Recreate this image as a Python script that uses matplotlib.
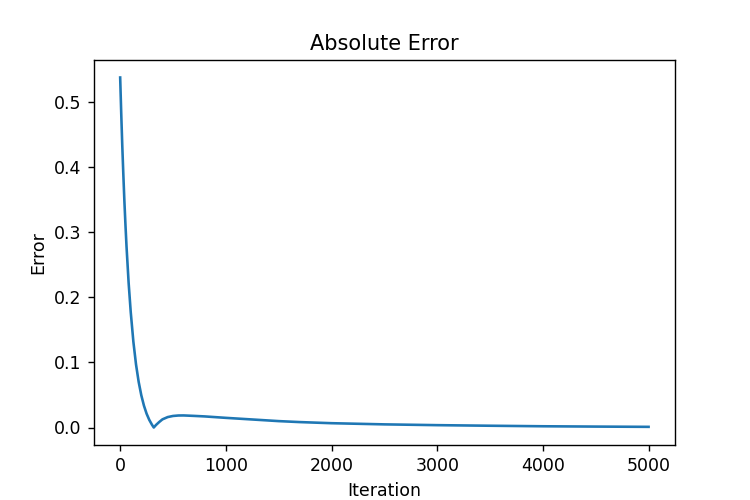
import matplotlib
matplotlib.use("Agg")
import matplotlib.pyplot as plt

iterations = [0, 10, 20, 30, 40, 50, 60, 80, 100, 125, 150, 175, 200, 225, 250, 275, 300,
              318, 340, 370, 400, 450, 500, 550, 600, 700, 800, 1000, 1200, 1500, 1700,
              2000, 2500, 3000, 3500, 4000, 4500, 5000]
errors = [0.537, 0.482, 0.432, 0.388, 0.347, 0.311, 0.278, 0.222, 0.177, 0.1315, 0.0967,
          0.070, 0.0494, 0.0335, 0.0212, 0.0118, 0.0045,
          0.0, 0.004, 0.0085, 0.0125, 0.0160, 0.0177, 0.0184, 0.0185, 0.0178, 0.0170,
          0.0148, 0.0128, 0.0098, 0.0083,
          0.0066, 0.0048, 0.0036, 0.0027, 0.0019, 0.0014, 0.0010]

fig, ax = plt.subplots(figsize=(6, 4), dpi=125)
ax.plot(iterations, errors)
ax.set_title("Absolute Error")
ax.set_xlabel("Iteration")
ax.set_ylabel("Error")
fig.savefig("out.png")
